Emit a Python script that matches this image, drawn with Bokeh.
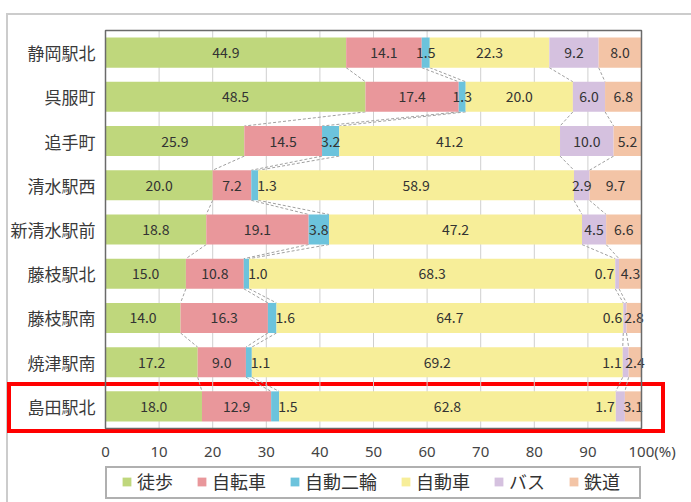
from bokeh.plotting import figure
from bokeh.models import ColumnDataSource, Range1d, FixedTicker, Legend, LegendItem
from bokeh.core.properties import value
from bokeh.embed import file_html
from bokeh.resources import INLINE

# ---------------- data ----------------
stations = ["静岡駅北", "呉服町", "追手町", "清水駅西", "新清水駅前",
            "藤枝駅北", "藤枝駅南", "焼津駅南", "島田駅北"]
modes = ["徒歩", "自転車", "自動二輪", "自動車", "バス", "鉄道"]
walk      = [44.9, 48.5, 25.9, 20.0, 18.8, 15.0, 14.0, 17.2, 18.0]
bicycle   = [14.1, 17.4, 14.5,  7.2, 19.1, 10.8, 16.3,  9.0, 12.9]
motorbike = [ 1.5,  1.3,  3.2,  1.3,  3.8,  1.0,  1.6,  1.1,  1.5]
car       = [22.3, 20.0, 41.2, 58.9, 47.2, 68.3, 64.7, 69.2, 62.8]
bus       = [ 9.2,  6.0, 10.0,  2.9,  4.5,  0.7,  0.6,  1.1,  1.7]
rail      = [ 8.0,  6.8,  5.2,  9.7,  6.6,  4.3,  2.8,  2.4,  3.1]
x_ticks = [0, 10, 20, 30, 40, 50, 60, 70, 80, 90, 100]
x_unit = "(%)"

series = [walk, bicycle, motorbike, car, bus, rail]

# ---------------- style ----------------
colors = ["#bfd77c", "#e9979b", "#6cc3dc", "#f7ee99", "#d5c1df", "#f3c4a6"]
FONT = "Noto Sans CJK JP"
BAR_H = 0.68
# small segments whose label sits beside the segment
label_side = {
    ("清水駅西", "自動二輪"): "after", ("藤枝駅北", "自動二輪"): "after",
    ("藤枝駅南", "自動二輪"): "after", ("焼津駅南", "自動二輪"): "after",
    ("島田駅北", "自動二輪"): "after",
    ("藤枝駅北", "バス"): "before", ("藤枝駅南", "バス"): "before",
    ("焼津駅南", "バス"): "before", ("島田駅北", "バス"): "before",
}


def box(color, x, y, w, h, t):
    """four edge strips of a rectangle outline as CSS background layers"""
    g = f"linear-gradient({color},{color})"
    return [(g, f"{x}px {y}px", f"{w}px {t}px"),
            (g, f"{x}px {y + h - t}px", f"{w}px {t}px"),
            (g, f"{x}px {y}px", f"{t}px {h}px"),
            (g, f"{x + w - t}px {y}px", f"{t}px {h}px")]


deco = (box("#ff0000", 7, 382, 658, 51, 4)        # highlight frame
        + box("#b0b0b0", 105, 466, 536, 33, 2)    # legend frame
        + box("#cccccc", 6, 13, 760, 560, 2))     # outer panel frame

W, H = 691, 502
n = len(stations)
S = 536 / (x_ticks[-1] - x_ticks[0])   # px per percent
R = 398 / n                            # px per row
PAD_LEFT, PAD_RIGHT, PAD_TOP, BOTTOM_EXTRA = 5, 50, 2, 74

p = figure(width=W, height=H, output_backend="svg", toolbar_location=None,
           x_range=Range1d(x_ticks[0] - PAD_LEFT / S, x_ticks[-1] + PAD_RIGHT / S),
           y_range=Range1d(n - 0.5 + BOTTOM_EXTRA / R, -0.5 - PAD_TOP / R),
           min_border_left=100, min_border_right=0, min_border_top=28,
           min_border_bottom=0, background_fill_color=None,
           border_fill_color=None)
p.styles = {
    "background-image": ", ".join(d[0] for d in deco),
    "background-position": ", ".join(d[1] for d in deco),
    "background-size": ", ".join(d[2] for d in deco),
    "background-repeat": "no-repeat",
    "background-color": "white",
}
p.outline_line_color = None
p.grid.visible = False

# axes
p.xaxis.fixed_location = n - 0.5
p.xaxis.ticker = FixedTicker(ticks=x_ticks)
p.xaxis.major_label_overrides = {x_ticks[-1]: "\u2007\u2007\u2008" + str(x_ticks[-1]) + x_unit}
p.xaxis.axis_line_color = None
p.xaxis.major_tick_line_color = None
p.xaxis.minor_tick_line_color = None
p.xaxis.major_tick_out = 0
p.xaxis.major_tick_in = 0
p.xaxis.major_label_standoff = 12
p.xaxis.major_label_text_font = "Noto Sans"
p.xaxis.major_label_text_font_size = "15px"
p.xaxis.major_label_text_color = "#444444"

p.yaxis.ticker = FixedTicker(ticks=list(range(n)))
p.yaxis.major_label_overrides = {i: s for i, s in enumerate(stations)}
p.yaxis.axis_line_color = None
p.yaxis.major_tick_line_color = None
p.yaxis.minor_tick_line_color = None
p.yaxis.major_tick_out = 0
p.yaxis.major_tick_in = 0
p.yaxis.major_label_standoff = 5
p.yaxis.major_label_text_font = FONT
p.yaxis.major_label_text_font_size = "17px"
p.yaxis.major_label_text_color = "#3a3a3a"

# vertical grid lines inside the plotting box
p.segment(x0=x_ticks, y0=[-0.5] * len(x_ticks), x1=x_ticks, y1=[n - 0.5] * len(x_ticks),
          line_color="#cfcfcf", line_width=1)

# cumulative boundaries
starts, ends = [], []
for i in range(n):
    acc = 0.0
    s_row, e_row = [], []
    for ser in series:
        s_row.append(acc)
        acc += ser[i]
        e_row.append(acc)
    starts.append(s_row)
    ends.append(e_row)

# dashed connectors between adjacent bars
cx0, cy0, cx1, cy1 = [], [], [], []
for i in range(n - 1):
    for k in range(len(modes) - 1):
        cx0.append(ends[i][k]); cy0.append(i + BAR_H / 2)
        cx1.append(ends[i + 1][k]); cy1.append(i + 1 - BAR_H / 2)
p.segment(x0=cx0, y0=cy0, x1=cx1, y1=cy1, line_color="#a0a0a0",
          line_width=1, line_dash="3 2")

# stacked bars
data = {"y": list(range(n))}
for m, ser in zip(modes, series):
    data[m] = ser
source = ColumnDataSource(data)
renderers = p.hbar_stack(modes, y="y", height=BAR_H, color=colors,
                         line_color=None, source=source)

# value labels
lx, ly, lt, la, lo = [], [], [], [], []
for i, st in enumerate(stations):
    for k, m in enumerate(modes):
        side = label_side.get((st, m), "center")
        if side == "after":
            lx.append(ends[i][k]); la.append("left"); lo.append(-1)
        elif side == "before":
            lx.append(starts[i][k]); la.append("right"); lo.append(-1)
        else:
            lx.append((starts[i][k] + ends[i][k]) / 2); la.append("center"); lo.append(0)
        ly.append(i)
        lt.append(f"{series[k][i]:.1f}")
lsrc = ColumnDataSource(dict(x=lx, y=ly, text=lt, align=la, off=lo))
p.text(x="x", y="y", text="text", text_align="align", x_offset="off",
       text_baseline="middle", text_font=value(FONT), source=lsrc,
       text_font_size="14px", text_color="#333333")

# plotting box outline
p.quad(left=x_ticks[0], right=x_ticks[-1], top=-0.5, bottom=n - 0.5,
       fill_color=None, line_color="#6a6a6a", line_width=1.5)

# legend under the axis
legend = Legend(items=[LegendItem(label=m, renderers=[r]) for m, r in zip(modes, renderers)],
                orientation="horizontal", location=(21, 8), margin=0, padding=4,
                spacing=23, label_standoff=5, glyph_width=11, glyph_height=11,
                label_text_font=FONT, label_text_font_size="18px",
                label_text_color="#333333", border_line_color=None,
                background_fill_alpha=0)
p.add_layout(legend)

open("out.html", "w").write(file_html(p, INLINE))
